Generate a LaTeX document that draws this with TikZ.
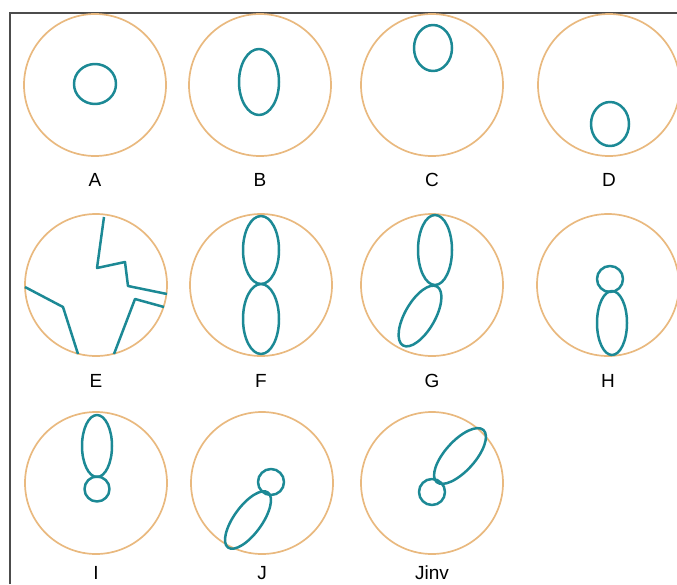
\documentclass[tikz,border=0pt]{standalone}
\usepackage{fontspec}
\usepackage{xcolor}
\usepackage{tikz}
\setmainfont{Liberation Sans}
\definecolor{cellring}{HTML}{E9B97F}
\definecolor{chromteal}{HTML}{1C8995}

\begin{document}
\begin{tikzpicture}[x=1pt, y=-1pt,
    ring/.style={cellring, line width=1.7pt},
    chrom/.style={chromteal, line width=2.5pt, line join=round},
    cellname/.style={font=\fontsize{19}{22}\selectfont, inner sep=0pt}]
  \useasboundingbox (0,0) rectangle (677,584);
  % frame
  \draw[black!70, line width=1.6pt] (10,584) -- (10,13) -- (677,13);
  % cells and their names
  \foreach \cx/\cy/\ly/\nm in {95/85/180/A, 260/85/180/B, 432/85/180/C, 609/85/180/D,
                               96/285/381/E, 261/285/381/F, 432/285/381/G, 608/285/381/H,
                               96/483/573/I, 262/483/573/J, 432/483/573/Jinv} {
    \draw[ring] (\cx,\cy) circle (71);
    \node[cellname] (lab\nm) at (\cx,\ly) {\nm};
  }
  % A
  \draw[chrom] (95,84) ellipse (21 and 20);
  % B
  \draw[chrom] (259,82) ellipse (20 and 33);
  % C
  \draw[chrom] (433,48) ellipse (19 and 23);
  % D
  \draw[chrom] (610,124) ellipse (19 and 22);
  % E
  \draw[chrom] (104,217) -- (97,268) -- (125,262) -- (128,286) -- (167,294);
  \draw[chrom] (164,307) -- (135,299) -- (114,354);
  \draw[chrom] (25,287) -- (63,307) -- (78,354);
  % F
  \draw[chrom] (261,250) ellipse (18 and 34);
  \draw[chrom] (261,319) ellipse (18 and 35);
  % G
  \draw[chrom] (435,250) ellipse (17 and 35);
  \draw[chrom, shift={(420,316)}, rotate=60] (0,0) ellipse (34 and 15);
  % H
  \draw[chrom] (610,279) circle (13);
  \draw[chrom] (612,323) ellipse (15 and 32);
  % I
  \draw[chrom] (97,446) ellipse (15 and 31);
  \draw[chrom] (97,489) circle (12.5);
  % J
  \draw[chrom] (271,482) circle (13);
  \draw[chrom, shift={(248,520)}, rotate=54] (0,0) ellipse (34 and 14);
  % Jinv
  \draw[chrom] (432,492) circle (13);
  \draw[chrom, shift={(460,456)}, rotate=48] (0,0) ellipse (35 and 15);
\end{tikzpicture}
\end{document}
